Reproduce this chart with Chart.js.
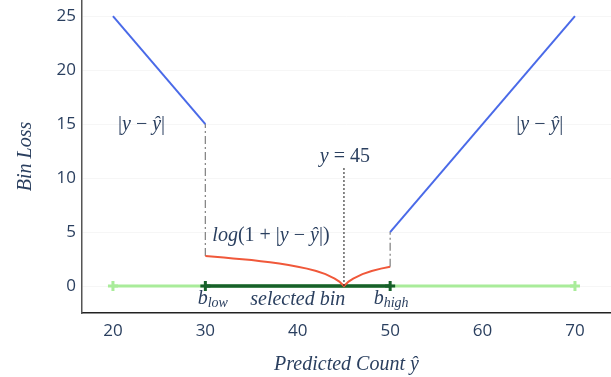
<!DOCTYPE html>
<html>
<head>
<meta charset="utf-8">
<script src="https://cdn.jsdelivr.net/npm/chart.js@4.4.1/dist/chart.umd.min.js"></script>
<style>
    html, body { margin: 0; padding: 0; background: #fff; }
    #wrap { width: 611px; height: 377px; }
</style>
</head>
<body>
<div id="wrap"><canvas id="lossChart"></canvas></div>
<script>
// data
const xTicks = [20, 30, 40, 50, 60, 70];
const yTicks = [0, 5, 10, 15, 20, 25];

const trueCount = 45;
const binLow = 30;
const binHigh = 50;

const absLeftX = [20, 30];
const absLeftY = [25, 15];
const absRightX = [50, 70];
const absRightY = [5, 25];

const logX = [30, 31, 32, 33, 34, 35, 36, 37, 38, 39, 40, 41, 42, 43, 44, 44.5, 45, 45.5, 46, 47, 48, 49, 50];
const logY = [2.77, 2.71, 2.64, 2.56, 2.49, 2.40, 2.30, 2.20, 2.08, 1.95, 1.79, 1.61, 1.39, 1.10, 0.69, 0.41, 0, 0.41, 0.69, 1.10, 1.39, 1.61, 1.79];

const rangeX = [20, 70];
const jumpLowY = [2.77, 15];
const jumpHighY = [1.79, 5];
const targetLineY = [0, 11];

const TEXT = '#2a3f5f';
const SERIF = '"Liberation Serif", "DejaVu Serif", serif';
const MATH = 'italic 20px ' + SERIF;
const ROMAN = '20px ' + SERIF;
const SUB = 'italic 14px ' + SERIF;

function pts(xs, ys) {
    return xs.map((x, i) => ({ x: x, y: ys[i] }));
}

/**
 * simple rich text: parts = [{t, font, sub}]
 */
function drawRich(ctx, parts, cx, cy) {
    let total = 0;
    parts.forEach(p => {
        ctx.font = p.sub ? SUB : (p.font || MATH);
        p.w = ctx.measureText(p.t).width;
        total += p.w;
    });
    let x = cx - total / 2;
    parts.forEach(p => {
        ctx.font = p.sub ? SUB : (p.font || MATH);
        ctx.fillText(p.t, x, p.sub ? cy + 5 : cy);
        x += p.w;
    });
}

const absText = [{ t: '|', font: ROMAN }, { t: 'y' }, { t: ' − ', font: ROMAN }, { t: 'ŷ' }, { t: '|', font: ROMAN }];

const labels = [
    { x: 23.1, y: 14.9, parts: absText },
    { x: 66.2, y: 14.9, parts: absText },
    { x: 45.1, y: 12.0, parts: [{ t: 'y' }, { t: ' = 45', font: ROMAN }] },
    { x: 37.1, y: 4.7, parts: [{ t: 'log' }, { t: '(1 + |', font: ROMAN }, { t: 'y' }, { t: ' − ', font: ROMAN }, { t: 'ŷ' }, { t: '|)', font: ROMAN }] },
    { x: 30.8, y: -1.15, parts: [{ t: 'b' }, { t: 'low', sub: true }] },
    { x: 40.0, y: -1.3, parts: [{ t: 'selected bin' }] },
    { x: 50.1, y: -1.15, parts: [{ t: 'b' }, { t: 'high', sub: true }] },
];

const annotationPlugin = {
    id: 'mathLabels',
    afterDatasetsDraw(chart) {
        const ctx = chart.ctx;
        const sx = chart.scales.x, sy = chart.scales.y;
        ctx.save();
        ctx.fillStyle = TEXT;
        ctx.textBaseline = 'middle';
        ctx.textAlign = 'left';
        labels.forEach(l => {
            drawRich(ctx, l.parts, sx.getPixelForValue(l.x), sy.getPixelForValue(l.y));
        });
        ctx.restore();
    }
};

const plus = { pointStyle: 'cross', pointRadius: 5, pointBorderWidth: 3 };

// first dataset is drawn on top
new Chart(document.getElementById('lossChart'), {
    type: 'scatter',
    data: {
        datasets: [
            {
                data: pts([trueCount, trueCount], targetLineY),
                showLine: true, borderColor: '#111', borderWidth: 1, pointRadius: 0,
                borderDash: [2, 2],
            },
            {
                data: pts(logX, logY),
                showLine: true, borderColor: '#f0583a', borderWidth: 2, pointRadius: 0,
            },
            {
                data: pts(absLeftX, absLeftY),
                showLine: true, borderColor: '#4a6ae8', borderWidth: 2, pointRadius: 0,
            },
            {
                data: pts(absRightX, absRightY),
                showLine: true, borderColor: '#4a6ae8', borderWidth: 2, pointRadius: 0,
            },
            {
                data: pts([binLow, binLow], jumpLowY),
                showLine: true, borderColor: '#888', borderWidth: 1.3, pointRadius: 0,
                borderDash: [8, 3, 2, 3],
            },
            {
                data: pts([binHigh, binHigh], jumpHighY),
                showLine: true, borderColor: '#888', borderWidth: 1.3, pointRadius: 0,
                borderDash: [8, 3, 2, 3],
            },
            {
                data: pts([binLow, binHigh], [0, 0]),
                showLine: true, borderColor: '#17602a', borderWidth: 3.5,
                pointBorderColor: '#17602a', ...plus,
            },
            {
                data: pts(rangeX, [0, 0]),
                showLine: true, borderColor: '#a9ec9a', borderWidth: 3,
                pointBorderColor: '#a9ec9a', ...plus,
            },
        ]
    },
    options: {
        responsive: true,
        maintainAspectRatio: false,
        animation: false,
        layout: { autoPadding: false, padding: 0 },
        plugins: { legend: { display: false }, tooltip: { enabled: false } },
        scales: {
            x: {
                type: 'linear', min: 16.65, max: 73.9,
                afterBuildTicks: s => { s.ticks = xTicks.map(v => ({ value: v })); },
                afterFit: s => { s.height = 64; s.paddingLeft = 0; s.paddingRight = 0; },
                grid: { display: false },
                border: { color: '#222', width: 1.5 },
                ticks: { color: TEXT, font: { family: '"Open Sans", "DejaVu Sans"', size: 17 }, padding: 0 },
                title: {
                    display: true, text: 'Predicted Count ŷ', color: TEXT,
                    font: { family: SERIF, style: 'italic', size: 20 },
                    padding: { top: 0, bottom: 0 },
                },
            },
            y: {
                type: 'linear', min: -2.5, max: 26.5,
                afterBuildTicks: s => { s.ticks = yTicks.map(v => ({ value: v })); },
                afterFit: s => { s.width = 82; s.paddingTop = 0; s.paddingBottom = 0; },
                grid: { color: 'rgba(0,0,0,0.035)', drawTicks: false },
                border: { color: '#555', width: 1.5 },
                ticks: { color: TEXT, font: { family: '"Open Sans", "DejaVu Sans"', size: 17 }, padding: 6 },
                title: {
                    display: true, text: 'Bin Loss', color: TEXT,
                    font: { family: SERIF, style: 'italic', size: 20 },
                    padding: { top: 14, bottom: 0 },
                },
            },
        },
    },
    plugins: [annotationPlugin],
});
</script>
</body>
</html>
